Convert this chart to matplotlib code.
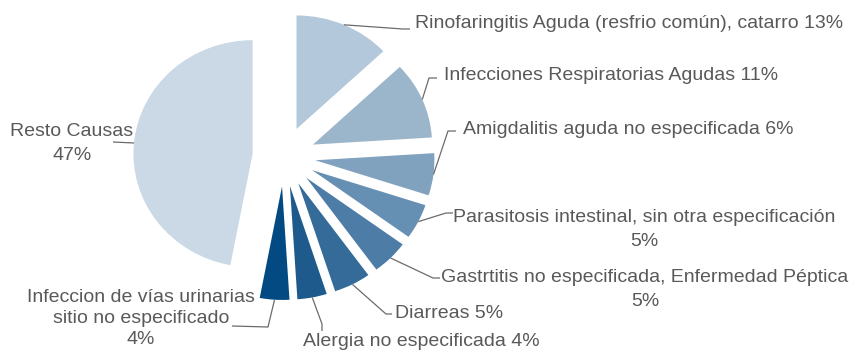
import math
import matplotlib
matplotlib.use("Agg")
import matplotlib.pyplot as plt

# Causes of consultation and their share (%)
causes = [
    "Rinofaringitis Aguda (resfrio común), catarro",
    "Infecciones Respiratorias Agudas",
    "Amigdalitis aguda no especificada",
    "Parasitosis intestinal, sin otra especificación",
    "Gastrtitis no especificada, Enfermedad Péptica",
    "Diarreas",
    "Alergia no especificada",
    "Infeccion de vías urinarias\nsitio no especificado",
    "Resto Causas",
]
shares = [13, 11, 6, 5, 5, 5, 4, 4, 47]
colors = ["#b3c8da", "#9bb5cb", "#80a2bf", "#6690b3", "#4d7ca6",
          "#356b99", "#1f5a8d", "#034a82", "#cad9e5"]

# label layout: (one line?, text x, first line y, ha, line step, leader elbow, leader end)
# in figure pixels, y measured from the top
layout = [
    (True,  415, 24,  "left",   0,    (403, 29),  (410, 29)),
    (True,  444, 76,  "left",   0,    (429, 78),  (437, 78)),
    (True,  463, 130, "left",   0,    (448, 131), (456, 131)),
    (False, 644, 217, "center", 25,   (446, 213), (453, 213)),
    (False, 645, 277, "center", 24,   (433, 278), (440, 278)),
    (True,  395, 313, "left",   0,    (386, 314), (392, 314)),
    (True,  303, 341, "left",   0,    (322, 324), (322, 331)),
    (False, 141, 297, "center", 21.5, (268, 327), (232, 326)),
    (False, 72,  131, "center", 24,   None,       (113, 142)),
]

W, H = 850, 351
sx = 1.05          # horizontal stretch of the chart
center = (284 / sx, -156.5)
radius = 113.5
gap = 30

fig = plt.figure(figsize=(W / 100, H / 100), dpi=100)
ax = fig.add_axes([0, 0, 1, 1])
wedges, _ = ax.pie(shares, colors=colors, startangle=90, counterclock=False,
                   radius=radius, center=center, explode=[gap] * len(shares),
                   wedgeprops=dict(linewidth=0))
ax.set_aspect("auto")
ax.set_xlim(0, W / sx)
ax.set_ylim(-H, 0)
ax.axis("off")

text_color = "#595959"
line_color = "#6b6b6b"
for w, cause, share, (one_line, tx, ty, ha, step, elbow, end) in zip(
        wedges, causes, shares, layout):
    # leader line from the middle of the wedge's arc
    theta = math.radians((w.theta1 + w.theta2) / 2)
    xs = [w.center[0] + w.r * math.cos(theta)]
    ys = [w.center[1] + w.r * math.sin(theta)]
    for pt in (elbow, end):
        if pt is not None:
            xs.append(pt[0] / sx)
            ys.append(-pt[1])
    ax.plot(xs, ys, color=line_color, lw=0.9, solid_capstyle="butt")

    label = f"{cause} {share}%" if one_line else f"{cause}\n{share}%"
    for i, line in enumerate(label.split("\n")):
        ax.text(tx / sx, -(ty + i * step), line, ha=ha, va="center",
                color=text_color, fontsize=14, family="Liberation Sans")

fig.savefig("out.png", dpi=100)
